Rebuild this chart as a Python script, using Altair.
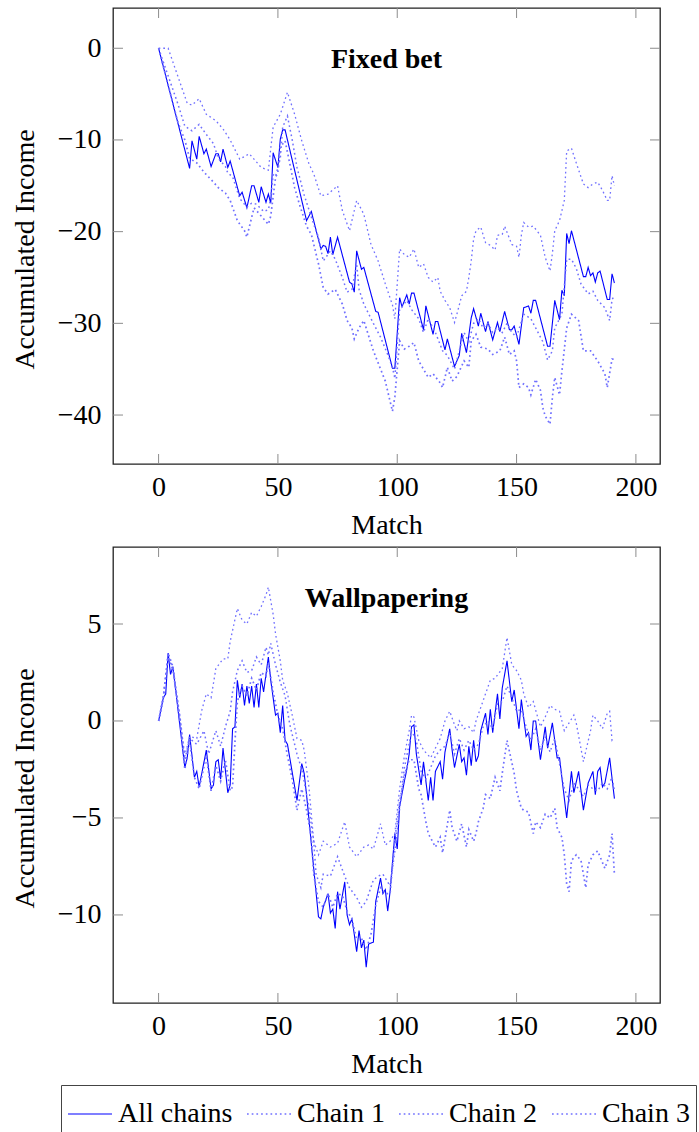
import altair as alt
import pandas as pd

FONT = "Liberation Serif"
SERIES = ["All chains", "Chain 1", "Chain 2", "Chain 3"]
COLORS = ["#0000ff", "#7070ff", "#7070ff", "#7070ff"]
DASHES = [[1, 0], [1.7, 3.0], [1.7, 3.0], [1.7, 3.0]]
WIDTHS = [1.1, 1.7, 1.7, 1.7]

X_TICKS = [0, 50, 100, 150, 200]
X_DOMAIN = [-19.1, 210.1]

# ---------------- Fixed bet ----------------
FIXED_TITLE = "Fixed bet"
FIXED_Y_TICKS = [0, -10, -20, -30, -40]
FIXED_Y_DOMAIN = [-45.34, 4.39]

fixed_all = [(0, 0), (13, -13.1), (14, -10.1), (16, -12.1), (17, -9.6), (19, -11.5), (20, -11), (22, -12.9),
             (24, -11.5), (25, -11.5), (26, -12.4), (27, -11), (29, -13), (30, -12.3), (34, -16.1), (35, -15.7),
             (37, -17.4), (39, -15), (40, -15), (42, -16.8), (43, -15.1), (45, -16.8), (46, -15.9), (47, -16.9),
             (48, -11.4), (50, -13), (51, -9.9), (52, -8.9), (53, -8.9), (62, -18.8), (64, -17.8), (68, -21.9),
             (69, -21.5), (70, -21.6), (71, -22.4), (72, -20.6), (73, -22.5), (75, -20.6), (80, -25.5),
             (81, -25.7), (82, -26.6), (83, -22.1), (85, -24.1), (86, -23.9), (91, -28.7), (92, -28.8),
             (98, -34.9), (99, -34.9), (101, -27.2), (102, -28.2), (104, -26.9), (105, -27.9), (106, -26.7),
             (107, -26.7), (111, -30.7), (112, -28.1), (115, -31.2), (116, -29.8), (117, -29.8), (120, -32.9),
             (121, -31.7), (124, -34.7), (126, -33.5), (127, -31.1), (129, -33.2), (131, -29.4), (132, -28.4),
             (134, -30.3), (135, -28.9), (137, -30.9), (138, -29.8), (140, -31.8), (142, -29.9), (143, -30.9),
             (145, -28.7), (147, -30.7), (148, -30.7), (149, -30.3), (151, -32.3), (153, -28.3), (155, -28.1),
             (156, -28.9), (157, -27.5), (158, -27.5), (163, -32.5), (164, -32.5), (166, -27.5), (168, -29.6),
             (169, -26.4), (170, -27), (171, -20.2), (172, -21.3), (173, -19.9), (178, -24.9), (179, -24.9),
             (180, -23.9), (181, -24.8), (182, -24.5), (183, -25.5), (184, -24.5), (185, -24.3), (188, -27.4),
             (189, -27.4), (190, -24.6), (191, -25.6)]

fixed_c1 = [(0, 0), (4, 0), (8, -3), (12, -6), (14, -6.2), (17, -5.5), (20, -7.2), (24, -7.9), (27, -8.8),
            (30, -10), (34, -12.1), (38, -11.5), (43, -13), (46, -13.3), (48, -8.6), (51, -7.2), (54, -4.8),
            (57, -7.2), (60, -10.1), (63, -12.6), (65, -13.7), (68, -16.1), (71, -15.9), (75, -15), (77, -17.7),
            (80, -19.9), (83, -16.6), (86, -18.1), (89, -21.4), (92, -23.2), (95, -25.7), (98, -28), (99, -29.5),
            (101, -21.9), (103, -22.5), (105, -22.8), (107, -21.9), (109, -23.9), (111, -23.5), (113, -25),
            (115, -25.5), (117, -25), (118, -26.5), (120, -27.5), (122, -28.3), (124, -29.9), (125, -29),
            (127, -27), (129, -26.5), (130, -25), (131, -23.2), (132, -20.8), (133, -19.9), (135, -19.5),
            (137, -21.2), (139, -21.5), (141, -22), (142, -20.4), (144, -20.3), (145, -19.4), (148, -21.4),
            (150, -21.6), (151, -22.8), (152, -20.4), (153, -19), (155, -19.5), (157, -19.4), (160, -20.4),
            (162, -22.8), (164, -24.3), (165, -22.4), (166, -19.9), (168, -18.8), (169, -17.7), (170, -16.6),
            (171, -11.2), (173, -10.9), (175, -12.5), (178, -14.8), (180, -15.2), (182, -14.8), (184, -14.6),
            (186, -15.5), (188, -16.6), (189, -16.6), (190, -13.9), (191, -15)]

fixed_c2 = [(0, 0), (4, -3), (8, -6), (11, -8.5), (14, -9), (17, -8.3), (20, -9.4), (23, -10.4), (25, -12),
            (28, -12.9), (29, -13.6), (31, -14), (34, -16.4), (37, -17.3), (39, -16.9), (41, -17), (44, -17.8),
            (46, -17.6), (47, -16.4), (48, -13.8), (49, -14), (51, -12), (52, -8.6), (54, -7.4), (56, -10),
            (58, -13), (61, -16), (65, -19.2), (67, -20.6), (69, -23.2), (72, -22.1), (74, -23), (77, -25),
            (79, -26.6), (81, -26.3), (83, -23.5), (84, -26.3), (86, -27.9), (90, -30), (93, -31.5), (96, -33.4),
            (98, -34.8), (99, -36), (101, -28.5), (104, -27.5), (106, -28.5), (109, -29.5), (111, -31),
            (113, -29.5), (116, -31), (119, -33), (121, -33.5), (124, -35), (126, -33), (128, -31), (130, -32),
            (132, -30), (134, -29.5), (136, -30.5), (138, -30), (140, -31), (142, -30.5), (144, -31), (146, -30),
            (148, -31), (150, -31.5), (153, -29), (156, -29.5), (158, -30.5), (161, -32), (163, -34), (165, -33),
            (166, -30.5), (169, -29), (171, -23), (173, -23), (175, -24), (177, -25.7), (180, -26.8),
            (182, -26.5), (184, -27.5), (187, -28.3), (189, -29.7), (190, -27.4), (191, -27)]

fixed_c3 = [(0, 0), (4, -4), (8, -8), (11, -10), (13, -12), (16, -12.5), (19, -13.5), (23, -14.6), (25, -15.2),
            (28, -15.8), (30, -16.6), (33, -18.8), (36, -19.9), (37, -20.6), (38, -19.5), (40, -17.4),
            (43, -18.3), (46, -19.2), (47, -18.3), (49, -14.1), (50, -13.5), (51, -10.8), (53, -10.1),
            (55, -12.6), (57, -15.2), (59, -17), (62, -19.4), (64, -20.3), (67, -23.5), (69, -26.1), (71, -26.8),
            (74, -26.3), (77, -27.9), (79, -29.7), (81, -30.5), (82, -31.7), (84, -30.5), (86, -29.7), (90, -33),
            (95, -36.3), (98, -39.6), (99, -38), (101, -31.9), (103, -32.8), (105, -32.5), (107, -32.1),
            (109, -34.1), (111, -35), (113, -35.9), (115, -35.5), (118, -36.5), (119, -37), (121, -34.8),
            (123, -36.3), (125, -35.8), (128, -34.1), (130, -34.8), (131, -31.9), (133, -31.2), (135, -32.6),
            (138, -32.8), (140, -33.4), (143, -33), (145, -31.5), (147, -33.4), (149, -33), (150, -34.1),
            (151, -37), (153, -36.6), (155, -37), (156, -37.8), (158, -36.1), (160, -37.3), (161, -39.2),
            (162, -40.1), (164, -41), (165, -38.1), (166, -35.9), (168, -37.8), (169, -35.2), (171, -30.5),
            (173, -29), (176, -29.7), (178, -33), (181, -33), (184, -34.1), (187, -35.5), (188, -37),
            (190, -33.9), (191, -33.9)]

# ---------------- Wallpapering ----------------
WALL_TITLE = "Wallpapering"
WALL_Y_TICKS = [5, 0, -5, -10]
WALL_Y_DOMAIN = [-14.54, 8.97]

wall_all = [(0, 0), (2, 1.2), (3, 1.4), (4, 3.5), (5, 2.4), (6, 2.8), (11, -2.4), (12, -1.9), (13, -0.7),
            (15, -2.9), (16, -2.6), (17, -3.4), (20, -1.5), (22, -3.5), (23, -3.3), (24, -2.1), (25, -2),
            (26, -3), (27, -1.4), (29, -3.7), (30, -3.3), (31, -0.4), (32, -0.3), (33, 2.1), (34, 1.2), (35, 1.9),
            (36, 0.8), (37, 1.8), (38, 0.9), (39, 1.8), (40, 0.7), (41, 1.9), (42, 0.7), (43, 2.2), (44, 1.5),
            (46, 3.3), (47, 2.1), (49, 0.3), (50, 0.4), (51, -0.6), (52, 0.8), (53, -1), (54, -1.2), (58, -4.1),
            (60, -2.2), (61, -2.7), (62, -3.8), (65, -7.6), (67, -10.1), (68, -10.2), (69, -9.6), (71, -8.9),
            (72, -9.9), (73, -9.7), (74, -10.7), (75, -8.8), (76, -9.7), (78, -8.3), (79, -10), (80, -10.5),
            (81, -10.2), (82, -11), (83, -11.9), (84, -10.8), (85, -11.7), (86, -11.3), (87, -12.7), (88, -11.5),
            (90, -11.4), (91, -9.3), (93, -8.1), (94, -8.9), (95, -8.7), (96, -9.8), (97, -8.8), (99, -5.8),
            (100, -6.6), (101, -4.4), (103, -3.1), (104, -2.5), (105, -1.7), (106, -0.3), (107, -0.2),
            (108, -1.7), (110, -3.3), (111, -2.1), (113, -4.1), (114, -2.9), (115, -4.1), (116, -2.6),
            (118, -2.1), (119, -3), (120, -1.6), (122, -0.4), (123, -1.5), (124, -2.4), (126, -1.2), (127, -2.1),
            (128, -1.9), (129, -2.8), (130, -1.3), (131, -2.3), (132, -1), (133, -2.1), (134, -1.8), (135, -0.5),
            (137, 0.4), (138, -0.7), (139, 0.6), (140, -0.6), (142, 1.4), (143, 0.1), (144, 1.7), (146, 3.1),
            (148, 1), (149, 1.6), (151, -0.4), (152, 1.1), (154, -0.8), (155, -0.6), (156, -1.5), (157, 0),
            (158, 0), (160, -2), (162, -0.3), (163, -1.4), (165, -0.1), (167, -1.9), (168, -1.9), (171, -5),
            (173, -2.6), (174, -3.7), (176, -2.6), (178, -4.6), (180, -3.2), (182, -2.6), (183, -3.8),
            (184, -2.6), (185, -2.4), (186, -3.4), (187, -3.2), (189, -1.9), (191, -4)]

wall_c1 = [(0, 0), (2, 1.3), (4, 3.3), (6, 2.6), (9, 0), (11, -1.8), (13, -0.8), (16, -0.9), (18, 0.5), (20, 1.4),
           (22, 1.2), (24, 2.7), (27, 3.2), (29, 3.2), (30, 4.1), (33, 5.8), (35, 5.2), (37, 5), (39, 5.6),
           (41, 5.4), (43, 5.9), (45, 6.5), (46, 6.9), (48, 5.5), (49, 4.5), (51, 3.1), (52, 2.1), (54, 1.4),
           (56, 0.3), (58, -0.9), (60, -1), (61, -1.5), (63, -3.4), (64, -4.8), (65, -6.2), (67, -6.9),
           (69, -6.2), (72, -6.5), (75, -6.3), (78, -5.2), (80, -6.5), (83, -7), (86, -6.5), (88, -6.4),
           (90, -6.6), (93, -5.3), (95, -6.4), (97, -6.2), (99, -5.8), (101, -3.5), (103, -1.8), (105, -0.5),
           (106, 0.3), (107, 0.2), (109, -1), (111, -1.5), (114, -1.9), (116, -1.4), (118, -0.9), (120, 0),
           (122, 0.5), (124, -0.2), (125, -0.5), (126, 0), (128, -0.4), (130, -0.3), (132, -0.6), (133, 0),
           (135, 0.7), (137, 1.4), (139, 2.1), (141, 2.2), (144, 2.7), (146, 4.3), (148, 2.9), (150, 2.6),
           (152, 2.1), (153, 1.4), (155, 0.7), (157, 1), (160, -0.3), (162, 0.2), (164, 0.8), (166, 0.6),
           (168, 0.5), (170, -0.5), (172, -0.1), (174, 0.3), (175, -0.1), (178, -2.1), (181, -0.5), (182, 0.3),
           (184, 0), (186, -0.4), (188, 0.4), (189, 0.5), (190, -1), (191, -0.9)]

wall_c2 = [(0, 0), (2, 1.2), (4, 3.4), (6, 2.7), (9, 0.2), (11, -2), (13, -0.9), (16, -1.2), (19, -0.5),
           (21, -1.7), (24, -0.5), (26, -1.3), (28, -0.3), (30, 0.5), (31, 1.5), (33, 2.6), (35, 3.1), (37, 2.5),
           (39, 2.6), (41, 3.3), (43, 2.9), (45, 3.8), (46, 3.4), (47, 4), (49, 2.9), (51, 2), (53, 1.3),
           (55, -0.2), (58, -1.7), (60, -2.5), (61, -3.1), (63, -4.5), (65, -6.2), (66, -7.9), (68, -8.6),
           (69, -7.9), (72, -8), (75, -7), (78, -8), (80, -8.6), (83, -9.1), (85, -9.6), (87, -9.3), (90, -8.2),
           (92, -8), (94, -7.9), (97, -8.5), (99, -6.7), (101, -4.5), (103, -2.4), (105, -1.2), (106, -0.5),
           (108, -1), (110, -2.6), (112, -3), (114, -2.4), (116, -1.8), (118, -1.5), (120, -1.3), (122, -0.6),
           (124, -1.7), (126, -0.9), (128, -1.5), (130, -1), (132, -1.5), (134, -1.2), (136, -0.3), (138, 0),
           (140, -0.4), (142, 0.9), (144, 1), (146, 1.8), (148, 1.2), (150, 0.5), (152, 0.6), (154, -0.3),
           (156, -1), (158, -0.4), (160, -1.5), (162, -0.8), (164, -1.6), (166, -0.9), (168, -2.2), (170, -3.5),
           (172, -4.1), (174, -3.2), (176, -3.5), (178, -3.9), (180, -3.3), (182, -3.5), (184, -3.6),
           (186, -3.2), (188, -3.5), (190, -2.9), (191, -3.6)]

wall_c3 = [(0, 0), (2, 1.2), (4, 3.5), (6, 2.8), (9, 0), (11, -2.5), (13, -1), (15, -2.9), (17, -3.5),
           (20, -1.8), (22, -3.6), (24, -2.3), (26, -3.1), (28, -2), (30, -3.6), (31, -3.4), (32, -1.1), (33, 1),
           (35, 1.8), (37, 1.3), (39, 2.2), (41, 1.6), (43, 2.5), (45, 2.3), (46, 3), (48, 1.5), (50, 0.3),
           (52, -0.4), (54, -1.8), (56, -3), (58, -4.6), (60, -3.5), (62, -4.6), (64, -6), (65, -7.9), (67, -9.3),
           (69, -9.6), (71, -8.9), (73, -9.6), (75, -8.9), (77, -9), (79, -9.8), (81, -10.2), (83, -11.3),
           (85, -11.2), (87, -11.8), (89, -11), (91, -9.5), (93, -8.6), (95, -8.9), (97, -8.9), (99, -6.1),
           (101, -4.2), (103, -2.8), (105, -2), (107, -2), (109, -3.5), (110, -3.8), (112, -5.2), (113, -5.8),
           (116, -6.5), (118, -6), (119, -6.8), (122, -4.6), (123, -5.5), (125, -6.2), (127, -5.3), (129, -6.5),
           (130, -5.6), (132, -6.2), (133, -5.8), (134, -5.2), (136, -4.5), (137, -3.8), (139, -4), (141, -2.9),
           (143, -3.6), (144, -2.7), (146, -1), (149, -2.7), (150, -3.6), (152, -4.5), (153, -4.6), (155, -4.7),
           (157, -5.8), (158, -5.2), (160, -5.5), (162, -4.8), (164, -5), (166, -4.5), (167, -5.5), (169, -6),
           (170, -6.9), (171, -8.4), (172, -8.8), (173, -7.2), (175, -6.9), (177, -7.2), (178, -7.9),
           (179, -8.6), (180, -7.4), (182, -6.9), (184, -6.7), (187, -7.6), (189, -6.9), (190, -5.8),
           (191, -7.9)]

W, H = 547, 456
TICK_LEN = 10
TICK_COLOR = "#8c8c8c"


def long_frame(series_points):
    rows = []
    for name, pts in zip(SERIES, series_points):
        for m, v in pts:
            rows.append({"m": m, "v": v, "series": name})
    return pd.DataFrame(rows)


LEGEND = alt.Legend(
    orient="none", legendX=-52, legendY=1077, direction="horizontal", title=None,
    symbolType="stroke", symbolSize=1936, symbolStrokeWidth=1.5,
    labelFont=FONT, labelFontSize=28, labelColor="black", labelOffset=5, labelLimit=0,
    columnPadding=11, padding=6, strokeColor="#444", fillColor="white",
)


def x_axis():
    return alt.Axis(
        values=X_TICKS, title="Match", grid=False, ticks=False, domain=False,
        labelFont=FONT, labelFontSize=28, labelColor="black", labelPadding=9,
        titleFont=FONT, titleFontSize=28, titleFontWeight="normal", titleColor="black",
        titleY=69, titleBaseline="alphabetic")


def y_axis(yticks):
    return alt.Axis(
        values=yticks, title="Accumulated Income", grid=False, ticks=False, domain=False,
        labelFont=FONT, labelFontSize=28, labelColor="black", labelPadding=12,
        titleFont=FONT, titleFontSize=28, titleFontWeight="normal", titleColor="black",
        titleX=-80, titleY=241, titleBaseline="alphabetic")


def panel(points, ydom, yticks, title, anchor=False):
    df = long_frame(points)
    xs = alt.Scale(domain=X_DOMAIN, nice=False, zero=False)
    ys = alt.Scale(domain=ydom, nice=False, zero=False)
    X = alt.X("m:Q", scale=xs, axis=x_axis())
    Y = alt.Y("v:Q", scale=ys, axis=y_axis(yticks))
    lines = alt.Chart(df).mark_line(clip=True, strokeCap="butt").encode(
        x=X, y=Y,
        color=alt.Color("series:N", scale=alt.Scale(domain=SERIES, range=COLORS), legend=LEGEND),
        strokeDash=alt.StrokeDash("series:N", scale=alt.Scale(domain=SERIES, range=DASHES), legend=LEGEND),
        strokeWidth=alt.StrokeWidth("series:N", scale=alt.Scale(domain=SERIES, range=WIDTHS), legend=None),
        order=alt.Order("m:Q"),
    )
    xt = pd.DataFrame({"m": X_TICKS})
    yt = pd.DataFrame({"v": yticks})
    xb = alt.Chart(xt).mark_rule(color=TICK_COLOR, strokeWidth=1).encode(
        x=X, y=alt.value(H), y2=alt.value(H - TICK_LEN))
    xtop = alt.Chart(xt).mark_rule(color=TICK_COLOR, strokeWidth=1).encode(
        x=X, y=alt.value(0), y2=alt.value(TICK_LEN))
    yl = alt.Chart(yt).mark_rule(color=TICK_COLOR, strokeWidth=1).encode(
        y=Y, x=alt.value(0), x2=alt.value(TICK_LEN))
    yr = alt.Chart(yt).mark_rule(color=TICK_COLOR, strokeWidth=1).encode(
        y=Y, x=alt.value(W - TICK_LEN), x2=alt.value(W))
    ttl = alt.Chart(pd.DataFrame({"t": [title]})).mark_text(
        font=FONT, fontSize=28, fontWeight="bold", color="black", align="center", baseline="alphabetic"
    ).encode(text="t:N", x=alt.value(W / 2), y=alt.value(60))
    layers = [lines, xb, xtop, yl, yr, ttl]
    if anchor:
        anc = alt.Chart(pd.DataFrame({"a": [0]})).mark_rule(
            strokeWidth=0.01, opacity=0, color="white").encode(
            x=alt.value(-112), x2=alt.value(-112), y=alt.value(-7), y2=alt.value(-6))
        layers.append(anc)
    return alt.layer(*layers).properties(width=W, height=H)


top = panel([fixed_all, fixed_c1, fixed_c2, fixed_c3], FIXED_Y_DOMAIN, FIXED_Y_TICKS, FIXED_TITLE, anchor=True)
bottom = panel([wall_all, wall_c1, wall_c2, wall_c3], WALL_Y_DOMAIN, WALL_Y_TICKS, WALL_TITLE)

chart = alt.vconcat(top, bottom, spacing=83, bounds="flush").properties(
    padding=0, autosize=alt.AutoSizeParams(type="pad"), background="white"
).configure_view(stroke="#222", strokeWidth=1.3)

chart.save("out.html", embed_options={"renderer": "svg", "actions": False})
